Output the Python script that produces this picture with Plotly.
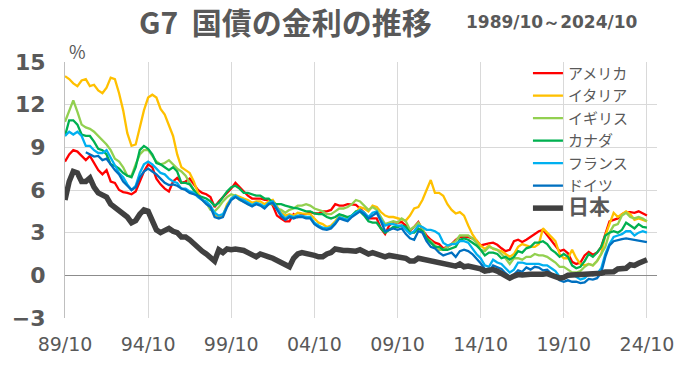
import pandas as pd
import plotly.graph_objects as go

dates = pd.date_range("1989-10-01", "2024-10-01", freq="QS")

usa = [8.0,
 8.5, 8.8, 8.7, 8.4,  8.1, 8.4, 7.9, 7.4,  7.1, 7.4, 6.6, 6.5,  6.0, 5.85, 5.8, 5.7,
 5.9, 6.6, 7.3, 7.8,  7.6, 6.8, 6.4, 6.1,  5.9, 6.6, 6.85, 6.5,  6.6, 6.8, 6.4, 6.0,
 5.8, 5.7, 5.5, 4.8,  5.2, 5.5, 5.8, 6.1,  6.5, 6.2, 5.9, 5.6,  5.4, 5.4, 5.4, 5.3,
 5.3, 4.9, 4.2, 4.0,  3.8, 3.8, 4.3, 4.1,  4.3, 4.3, 4.45, 4.35,  4.35, 4.5, 4.5, 4.6,
 5.0, 4.9, 4.9, 5.0,  5.0, 4.95, 4.7, 4.4,  4.0, 4.0, 4.0, 3.3,  2.9, 3.5, 3.75, 3.7,
 3.75, 3.5, 3.15, 3.4,  3.75, 3.2, 2.8, 2.5,  2.3, 2.2, 1.9, 2.0,  2.2, 2.5, 2.7, 2.7,
 2.7, 2.6, 2.45, 2.1,  2.2, 2.25, 2.3, 2.15,  1.9, 1.7, 1.8, 2.4,  2.5, 2.35, 2.5, 2.7,
 2.95, 3.1, 3.2, 2.8,  2.4, 2.05, 1.7, 1.8,  1.55, 0.95, 0.8, 0.9,  1.4, 1.65, 1.45, 1.6,
 2.0, 2.9, 3.8, 3.9,  4.0, 4.3, 4.45, 4.45,  4.4, 4.5, 4.35, 4.2]

italy = [14.0,
 13.8, 13.5, 13.3, 13.7,  13.8, 13.3, 13.4, 13.0,  12.8, 13.2, 13.9, 13.8,  12.8, 11.6, 10.0, 9.1,
 9.2, 10.4, 11.6, 12.5,  12.7, 12.5, 11.7, 11.3,  10.5, 9.8, 8.5, 7.6,  7.4, 7.2, 6.6, 5.8,
 5.3, 5.1, 4.8, 4.3,  4.1, 4.2, 5.0, 5.4,  5.65, 5.5, 5.4, 5.3,  5.1, 5.2, 5.2, 5.0,
 5.2, 5.3, 4.8, 4.4,  4.2, 4.3, 4.2, 4.4,  4.35, 4.3, 4.3, 4.0,  3.7, 3.6, 3.4, 3.5,
 3.8, 4.2, 4.2, 4.0,  4.2, 4.4, 4.8, 4.7,  4.5, 4.9, 4.8, 4.45,  4.2, 4.1, 4.1, 4.0,
 3.95, 3.85, 4.2, 4.7,  4.8, 5.3, 6.0, 6.7,  5.8, 5.8, 5.6, 5.0,  4.6, 4.35, 4.45, 4.2,
 3.5, 2.9, 2.45, 2.1,  1.85, 2.1, 1.85, 1.75,  1.7, 1.5, 1.3, 1.5,  2.0, 2.2, 2.1, 2.0,
 2.0, 2.2, 3.3, 3.0,  2.7, 2.4, 1.5, 1.2,  1.2, 1.8, 1.2, 0.8,  0.7, 0.8, 0.7, 1.0,
 1.5, 2.8, 3.6, 4.4,  4.1, 4.3, 4.5, 4.3,  3.9, 4.0, 3.9, 3.8]

uk = [10.8,
 11.6, 12.3, 11.5, 10.6,  10.4, 10.3, 10.1, 9.8,  9.5, 9.2, 8.8, 8.2,  8.0, 7.6, 7.0, 7.0,
 7.8, 8.5, 8.8, 8.8,  8.4, 8.0, 7.8, 7.9,  8.1, 7.8, 7.5, 7.3,  7.0, 6.5, 6.0, 5.6,
 5.3, 5.1, 4.6, 4.5,  4.8, 5.2, 5.5, 5.7,  5.6, 5.3, 5.2, 5.0,  4.9, 5.1, 5.0, 4.8,
 5.0, 5.0, 4.7, 4.6,  4.4, 4.6, 4.7, 4.9,  4.9, 5.0, 4.9, 4.7,  4.6, 4.5, 4.3, 4.3,
 4.5, 4.7, 4.7, 4.8,  5.0, 5.3, 5.2, 4.9,  4.6, 4.8, 4.6, 4.1,  3.6, 3.7, 3.8, 3.7,
 4.0, 3.8, 3.2, 3.4,  3.7, 3.3, 2.6, 2.4,  2.1, 1.8, 1.8, 2.0,  2.2, 2.4, 2.8, 2.8,
 2.8, 2.6, 2.3, 1.8,  1.7, 2.0, 1.9, 1.8,  1.5, 1.2, 0.8, 1.2,  1.2, 1.1, 1.3, 1.3,
 1.5, 1.4, 1.4, 1.3,  1.1, 0.9, 0.6, 0.6,  0.4, 0.2, 0.2, 0.3,  0.6, 0.8, 0.7, 1.0,
 1.5, 2.0, 3.0, 3.5,  3.6, 4.2, 4.4, 4.1,  4.0, 4.1, 4.0, 3.8]

canada = [9.8,
 10.9, 10.9, 10.6, 9.9,  9.8, 9.8, 9.4, 8.9,  8.8, 8.5, 7.8, 7.7,  7.5, 7.2, 7.0, 6.9,
 7.6, 8.8, 9.1, 8.9,  8.5, 7.9, 7.8, 7.6,  7.4, 7.6, 7.3, 6.5,  6.5, 6.4, 6.0, 5.6,
 5.5, 5.4, 5.2, 4.9,  5.1, 5.5, 5.9, 6.2,  6.3, 6.1, 5.8, 5.8,  5.7, 5.6, 5.6, 5.4,
 5.4, 5.1, 5.0, 5.0,  4.9, 4.8, 4.75, 4.7,  4.6, 4.5, 4.5, 4.35,  4.3, 4.3, 4.1, 4.0,
 4.1, 4.3, 4.2, 4.1,  4.2, 4.5, 4.5, 4.2,  3.8, 3.7, 3.7, 3.3,  3.0, 3.2, 3.4, 3.4,
 3.5, 3.4, 3.0, 3.0,  3.3, 3.1, 2.6, 2.3,  2.0, 2.0, 1.8, 1.8,  1.9, 2.0, 2.5, 2.6,
 2.5, 2.3, 2.1, 1.8,  1.4, 1.6, 1.6, 1.5,  1.2, 1.3, 1.1, 1.3,  1.7, 1.6, 1.9, 2.0,
 2.3, 2.3, 2.4, 2.2,  1.8, 1.6, 1.3, 1.5,  1.3, 0.7, 0.5, 0.6,  1.0, 1.5, 1.3, 1.6,
 2.0, 2.8, 3.0, 3.1,  3.0, 3.2, 3.7, 3.5,  3.3, 3.6, 3.4, 3.35]

france = [9.8,
 10.1, 9.9, 10.1, 9.8,  9.1, 9.1, 8.8, 8.6,  8.6, 8.8, 8.3, 7.8,  7.2, 6.9, 6.4, 6.0,
 6.3, 7.2, 7.8, 8.0,  7.8, 7.5, 7.2, 7.1,  6.8, 6.6, 6.5, 6.1,  6.1, 5.9, 5.8, 5.5,
 5.3, 5.2, 4.9, 4.4,  4.2, 4.3, 4.9, 5.4,  5.6, 5.4, 5.3, 5.1,  4.95, 5.1, 5.0, 4.8,
 5.1, 5.2, 4.7, 4.3,  4.0, 4.2, 4.1, 4.2,  4.2, 4.1, 4.1, 3.7,  3.5, 3.35, 3.3, 3.4,
 3.7, 4.1, 4.0, 3.9,  4.2, 4.4, 4.6, 4.4,  4.1, 4.4, 4.5, 3.9,  3.5, 3.6, 3.6, 3.5,
 3.5, 3.2, 2.9, 3.1,  3.5, 3.4, 3.2, 3.2,  3.1, 2.9, 2.3, 2.1,  2.2, 2.2, 2.4, 2.4,
 2.3, 1.9, 1.5, 1.2,  0.7, 0.6, 1.1, 0.9,  0.8, 0.5, 0.2, 0.4,  0.9, 0.9, 0.8, 0.8,
 0.8, 0.8, 0.7, 0.7,  0.5, 0.3, -0.1, -0.1,  0.0, 0.1, -0.1, -0.3,  -0.2, 0.1, 0.0, 0.1,
 0.5, 1.5, 2.2, 2.7,  2.8, 2.9, 3.1, 3.1,  2.8, 3.0, 3.1, 3.0]

germany = [None,
 None, None, None, None,  8.65, 8.5, 8.35, 8.4,  8.1, 8.2, 7.8, 7.4,  7.1, 6.6, 6.3, 6.0,
 6.2, 6.9, 7.3, 7.5,  7.3, 7.1, 6.8, 6.5,  6.35, 6.4, 6.3, 6.1,  6.0, 5.8, 5.7, 5.6,
 5.3, 5.0, 4.8, 4.1,  4.0, 4.1, 4.8, 5.3,  5.5, 5.3, 5.15, 5.0,  4.85, 5.0, 4.9, 4.7,
 5.0, 5.1, 4.6, 4.15,  3.9, 4.1, 4.0, 4.1,  4.1, 4.0, 4.0, 3.6,  3.4, 3.25, 3.2, 3.3,
 3.6, 4.0, 3.9, 3.8,  4.1, 4.3, 4.5, 4.3,  4.0, 4.2, 4.4, 3.8,  3.1, 3.2, 3.3, 3.2,
 3.3, 2.9, 2.6, 2.5,  3.1, 3.0, 2.4, 2.0,  1.9, 1.6, 1.4, 1.5,  1.6, 1.3, 1.7, 1.8,
 1.7, 1.5, 1.2, 0.85,  0.45, 0.25, 0.7, 0.55,  0.45, 0.15, -0.1, 0.05,  0.35, 0.25, 0.55, 0.4,
 0.6, 0.55, 0.35, 0.4,  0.1, -0.05, -0.35, -0.45,  -0.35, -0.45, -0.45, -0.55,  -0.5, -0.25, -0.3, -0.2,
 0.2, 1.3, 2.1, 2.4,  2.5, 2.55, 2.6, 2.55,  2.45, 2.45, 2.4, 2.33]

japan = [5.3,
 6.6, 7.3, 7.2, 6.6,  6.6, 6.85, 6.2, 5.8,  5.6, 5.5, 5.0, 4.8,  4.5, 4.35, 4.1, 3.7,
 3.85, 4.3, 4.6, 4.5,  3.9, 3.2, 3.0, 3.2,  3.3, 3.1, 3.0, 2.7,  2.7, 2.5, 2.2, 1.9,
 1.7, 1.5, 1.3, 1.0,  1.8, 1.6, 1.85, 1.8,  1.85, 1.8, 1.75, 1.6,  1.4, 1.3, 1.5, 1.35,
 1.3, 1.2, 1.05, 0.8,  0.7, 0.6, 1.2, 1.5,  1.6, 1.5, 1.4, 1.4,  1.3, 1.3, 1.5, 1.6,
 1.85, 1.75, 1.75, 1.75,  1.7, 1.7, 1.8, 1.65,  1.5, 1.6, 1.5, 1.5,  1.3, 1.4, 1.35, 1.3,
 1.3, 1.2, 1.0, 1.0,  1.2, 1.15, 1.05, 1.0,  0.95, 0.85, 0.8, 0.75,  0.7, 0.65, 0.8, 0.6,
 0.65, 0.6, 0.5, 0.45,  0.3, 0.35, 0.4, 0.3,  0.15, -0.1, -0.2, -0.05,  0.05, 0.02, 0.08, 0.07,
 0.08, 0.05, 0.08, 0.12,  0.0, -0.05, -0.2, -0.15,  0.0, 0.02, 0.03, 0.03,  0.05, 0.1, 0.05, 0.08,
 0.15, 0.24, 0.23, 0.25,  0.45, 0.45, 0.5, 0.75,  0.7, 0.85, 1.0, 1.1]

series = [
    ("アメリカ", usa, "#FF0000", 2.3),
    ("イタリア", italy, "#FFC000", 2.3),
    ("イギリス", uk, "#92D050", 2.3),
    ("カナダ", canada, "#00B050", 2.3),
    ("フランス", france, "#00B0F0", 2.3),
    ("ドイツ", germany, "#0070C0", 2.3),
    ("<span style='font-size:21px'><b>日本</b></span>", japan, "#404040", 5.5),
]

tick_dates = ["1989-10-01", "1994-10-01", "1999-10-01", "2004-10-01",
              "2009-10-01", "2014-10-01", "2019-10-01", "2024-10-01"]
tick_text = ["89/10", "94/10", "99/10", "04/10", "09/10", "14/10", "19/10", "24/10"]

TXT = "#595959"
FONT = "Noto Sans CJK JP"

fig = go.Figure()
for name, vals, color, w in series:
    fig.add_trace(go.Scatter(x=dates, y=vals, name=name, mode="lines",
                             line=dict(color=color, width=w), connectgaps=False))

fig.update_layout(
    width=692, height=367,
    margin=dict(l=57, r=35, t=62, b=49),
    paper_bgcolor="white", plot_bgcolor="white",
    font=dict(family=FONT, color=TXT),
    showlegend=True,
    legend=dict(x=0.782, y=1.02, xanchor="left", yanchor="top",
                bgcolor="rgba(0,0,0,0)", font=dict(size=15, color=TXT, family=FONT),
                itemwidth=30, tracegroupgap=0),
    xaxis=dict(type="date", range=["1989-10-01", "2025-05-10"],
               tickvals=tick_dates, ticktext=tick_text,
               tickfont=dict(size=19, color=TXT, family="DejaVu Sans"),
               showgrid=True, gridcolor="#D9D9D9", gridwidth=1,
               showline=False, zeroline=False,
               ticks="outside", ticklen=9, tickcolor="rgba(0,0,0,0)"),
    yaxis=dict(range=[-3, 15], tickvals=[-3, 0, 3, 6, 9, 12, 15],
               tickfont=dict(size=22, color=TXT, family="DejaVu Sans", weight="bold"),
               showgrid=True, gridcolor="#D9D9D9", gridwidth=1,
               zeroline=True, zerolinecolor="#8C8C8C", zerolinewidth=1,
               showline=True, linecolor="#BFBFBF", linewidth=1,
               ticks="outside", ticklen=14, tickcolor="rgba(0,0,0,0)"),
    annotations=[
        dict(text="<b>G7  国債の金利の推移</b>", x=280, y=21, showarrow=False,
             font=dict(size=30, color=TXT, family=FONT)),
        dict(text="<b>1989/10～2024/10</b>", x=551, y=22, showarrow=False,
             font=dict(size=17, color=TXT, family="DejaVu Sans")),
        dict(text="%", x=70, y=51, showarrow=False,
             font=dict(size=18, color=TXT, family=FONT)),
    ],
)

# convert pixel-positioned annotations to paper coordinates
pw, ph = 692 - 57 - 35, 367 - 62 - 49
for a in fig.layout.annotations:
    px, py = a.x, a.y
    a.xref = "paper"; a.yref = "paper"
    a.x = (px - 57) / pw
    a.y = (367 - 49 - py) / ph
    a.xanchor = "center"; a.yanchor = "middle"

fig.write_html("out.html", config={"displayModeBar": False},
               post_script="document.body.style.margin='0';")
